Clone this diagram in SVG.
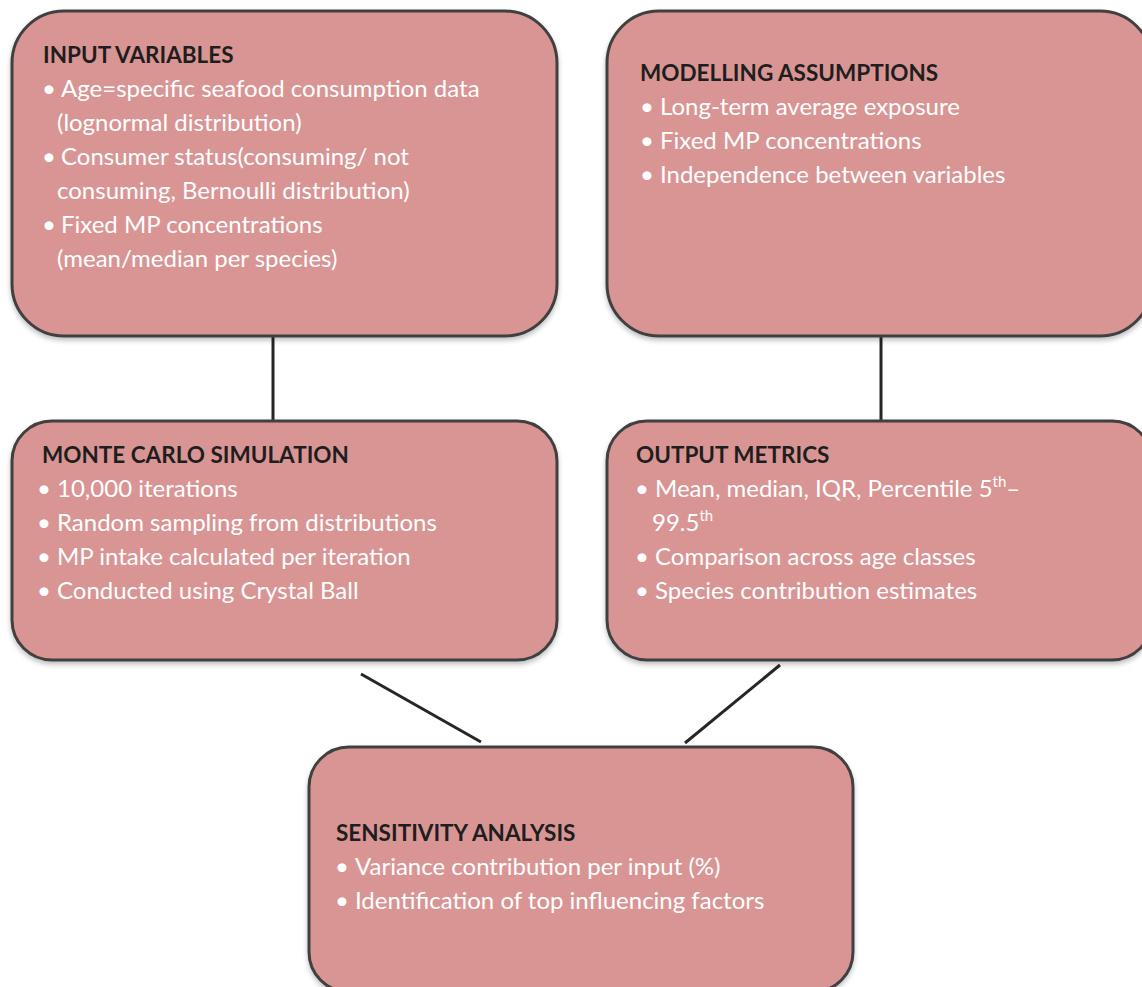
<svg xmlns="http://www.w3.org/2000/svg" width="1142" height="987" viewBox="0 0 1142 987">
<defs>
<filter id="sh" x="-5%" y="-5%" width="110%" height="115%">
<feDropShadow dx="0" dy="3" stdDeviation="2.5" flood-color="#000" flood-opacity="0.25"/>
</filter>
</defs>
<style>
.box{fill:#d99594;stroke:#404040;stroke-width:3;filter:url(#sh)}
.t{font-family:Lato,"Open Sans",sans-serif;font-size:22.5px;font-weight:bold;fill:#1e1e1e}
.b{font-family:Lato,"Open Sans",sans-serif;font-size:24px;fill:#ffffff}
.d{font-family:Lato,"Open Sans",sans-serif;font-size:24px;fill:#ffffff;text-anchor:middle}
.c{stroke:#262626;stroke-width:3;fill:none}
</style>
<rect width="1142" height="987" fill="#ffffff"/>
<g id="connectors">
<line class="c" x1="273" y1="336" x2="273" y2="421"/>
<line class="c" x1="881" y1="336" x2="881" y2="421"/>
<line class="c" x1="361" y1="674" x2="481" y2="742"/>
<line class="c" x1="780" y1="665" x2="685" y2="743"/>
</g>
<g id="input-variables">
<rect class="box" x="12" y="11" width="545" height="325" rx="52"/>
<text class="t" x="43" y="63">INPUT VARIABLES</text>
<text class="d" x="49" y="97">•</text><text class="b" x="61" y="97">Age=specific seafood consumption data</text>
<text class="b" x="57" y="131">(lognormal distribution)</text>
<text class="d" x="49" y="165">•</text><text class="b" x="61" y="165">Consumer status(consuming/ not</text>
<text class="b" x="57" y="199">consuming, Bernoulli distribution)</text>
<text class="d" x="49" y="233">•</text><text class="b" x="61" y="233">Fixed MP concentrations</text>
<text class="b" x="57" y="267">(mean/median per species)</text>
</g>
<g id="modelling-assumptions">
<rect class="box" x="607" y="11" width="545" height="325" rx="52"/>
<text class="t" x="640" y="81">MODELLING ASSUMPTIONS</text>
<text class="d" x="647" y="115">•</text><text class="b" x="660" y="115">Long-term average exposure</text>
<text class="d" x="647" y="149">•</text><text class="b" x="660" y="149">Fixed MP concentrations</text>
<text class="d" x="647" y="183">•</text><text class="b" x="660" y="183">Independence between variables</text>
</g>
<g id="monte-carlo">
<rect class="box" x="12" y="421" width="545" height="239" rx="40"/>
<text class="t" x="42" y="463">MONTE CARLO SIMULATION</text>
<text class="d" x="44" y="497">•</text><text class="b" x="57" y="497">10,000 iterations</text>
<text class="d" x="44" y="531">•</text><text class="b" x="57" y="531">Random sampling from distributions</text>
<text class="d" x="44" y="565">•</text><text class="b" x="57" y="565">MP intake calculated per iteration</text>
<text class="d" x="44" y="599">•</text><text class="b" x="57" y="599">Conducted using Crystal Ball</text>
</g>
<g id="output-metrics">
<rect class="box" x="607" y="421" width="545" height="239" rx="40"/>
<text class="t" x="636" y="463">OUTPUT METRICS</text>
<text class="d" x="642" y="497">•</text><text class="b" x="655" y="497">Mean, median, IQR, Percentile 5<tspan font-size="15" dy="-10">th</tspan><tspan dy="10">–</tspan></text>
<text class="b" x="652" y="531">99.5<tspan font-size="15" dy="-10">th</tspan></text>
<text class="d" x="642" y="565">•</text><text class="b" x="655" y="565">Comparison across age classes</text>
<text class="d" x="642" y="599">•</text><text class="b" x="655" y="599">Species contribution estimates</text>
</g>
<g id="sensitivity-analysis">
<rect class="box" x="309" y="747" width="544" height="245" rx="40"/>
<text class="t" x="336" y="841">SENSITIVITY ANALYSIS</text>
<text class="d" x="342" y="875">•</text><text class="b" x="355" y="875">Variance contribution per input (%)</text>
<text class="d" x="342" y="909">•</text><text class="b" x="355" y="909">Identification of top influencing factors</text>
</g>
</svg>
